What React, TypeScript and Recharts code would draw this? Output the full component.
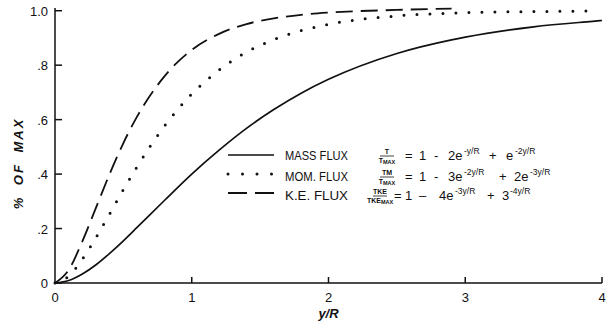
import { LineChart, Line, XAxis, YAxis, Legend, Label } from 'recharts'

// y/R positions at which the curves were read
const xs = [0, 0.1, 0.2, 0.3, 0.4, 0.5, 0.6, 0.8, 1.0, 1.2, 1.4, 1.6, 1.8, 2.0, 2.5, 2.9, 3.0, 3.5, 3.93, 4.0]

// fraction of maximum
const massFlux = [0, 0.009, 0.033, 0.067, 0.109, 0.155, 0.204, 0.303, 0.4, 0.488, 0.568, 0.637, 0.697, 0.748, 0.843, 0.893, 0.903, 0.941, 0.961, 0.964]
const momFlux = [0, 0.025, 0.087, 0.167, 0.254, 0.343, 0.427, 0.576, 0.694, 0.782, 0.848, 0.894, 0.927, 0.95, 0.981, 0.991, 0.993, 0.997, 0.999, null]
const keFlux = [0, 0.048, 0.153, 0.277, 0.401, 0.514, 0.611, 0.759, 0.856, 0.915, 0.951, 0.972, 0.985, 0.993, 1.003, 1.008, null, null, null, null]

const xTicks = [0, 1, 2, 3, 4]
const yTicks = [0, 0.2, 0.4, 0.6, 0.8, 1.0]
const yTickLabels = ['0', '.2', '.4', '.6', '.8', '1.0']

const data = xs.map((x, i) => ({
  x,
  mass: massFlux[i],
  mom: momFlux[i],
  ke: keFlux[i],
}))

const font = '"Liberation Sans", Arial, sans-serif'
const ink = '#111'

function YTick({ x, y, payload }: any) {
  const i = yTicks.indexOf(payload.value)
  return (
    <g>
      <line x1={x} x2={x + 7} y1={y} y2={y} stroke={ink} strokeWidth={1.5} />
      <text x={x - 7} y={y + 5} textAnchor="end" fontSize={13} fontFamily={font} fill={ink}>
        {yTickLabels[i]}
      </text>
    </g>
  )
}

function XTick({ x, y, payload }: any) {
  return (
    <g>
      {payload.value !== 0 && (
        <line x1={x} x2={x} y1={y} y2={y - 6} stroke={ink} strokeWidth={1.5} />
      )}
      <text x={x} y={y + 19} textAnchor="middle" fontSize={13} fontFamily={font} fill={ink}>
        {payload.value}
      </text>
    </g>
  )
}

function Frac({ x, y, top, bottom }: { x: number; y: number; top: string; bottom: string }) {
  return (
    <g fontFamily={font} fill={ink} fontWeight="bold">
      <text x={x} y={y - 6} textAnchor="middle" fontSize={7}>{top}</text>
      <line x1={x - 7} x2={x + 7} y1={y - 4} y2={y - 4} stroke={ink} strokeWidth={0.8} />
      <text x={x} y={y + 3} textAnchor="middle" fontSize={7}>
        {bottom}
        <tspan fontSize={5.5} dy={1}>MAX</tspan>
      </text>
    </g>
  )
}

// pieces: [text, x, isSuperscript]
function Formula({ y, parts }: { y: number; parts: [string, number, boolean][] }) {
  return (
    <g fontFamily={font} fill={ink}>
      {parts.map(([t, x, sup], i) => (
        <text key={i} x={x} y={sup ? y - 6 : y} fontSize={sup ? 8.5 : 13}>
          {t}
        </text>
      ))}
    </g>
  )
}

// legend box is placed at (225, 140); coordinates below are relative to it
const ox = 225
const oy = 140

function FluxLegend() {
  const label = (t: string, y: number) => (
    <text x={285 - ox} y={y - oy} fontSize={13} fontFamily={font} fill={ink} textLength={63} lengthAdjust="spacingAndGlyphs">
      {t}
    </text>
  )
  return (
    <svg width={360} height={70} style={{ display: 'block' }}>
      <line x1={3} x2={49} y1={15} y2={15} stroke={ink} strokeWidth={1.6} />
      <line x1={3} x2={48} y1={34} y2={34} stroke={ink} strokeWidth={3} strokeLinecap="round" strokeDasharray="0 14.5" />
      <line x1={3} x2={49} y1={53} y2={53} stroke={ink} strokeWidth={1.8} strokeDasharray="19 8" />

      {label('MASS FLUX', 160)}
      <Frac x={387 - ox} y={160 - oy} top="T" bottom="T" />
      <Formula
        y={160 - oy}
        parts={[
          ['=', 405 - ox, false],
          ['1', 419 - ox, false],
          ['-', 434 - ox, false],
          ['2e', 448 - ox, false],
          ['-y/R', 464 - ox, true],
          ['+', 489 - ox, false],
          ['e', 506 - ox, false],
          ['-2y/R', 515 - ox, true],
        ]}
      />

      {label('MOM. FLUX', 181)}
      <Frac x={387 - ox} y={181 - oy} top="TM" bottom="T" />
      <Formula
        y={181 - oy}
        parts={[
          ['=', 405 - ox, false],
          ['1', 419 - ox, false],
          ['-', 434 - ox, false],
          ['3e', 448 - ox, false],
          ['-2y/R', 464 - ox, true],
          ['+', 499 - ox, false],
          ['2e', 514 - ox, false],
          ['-3y/R', 530 - ox, true],
        ]}
      />

      {label('K.E. FLUX', 200)}
      <Frac x={380 - ox} y={200 - oy} top="TKE" bottom="TKE" />
      <Formula
        y={200 - oy}
        parts={[
          ['=', 394 - ox, false],
          ['1', 405 - ox, false],
          ['\u2013', 419 - ox, false],
          ['4e', 439 - ox, false],
          ['-3y/R', 455 - ox, true],
          ['+', 487 - ox, false],
          ['3', 502 - ox, false],
          ['-4y/R', 510 - ox, true],
        ]}
      />
    </svg>
  )
}

export default function App() {
  return (
    <div style={{ position: 'absolute', left: 0, top: 0, width: 612, height: 333, background: '#fff' }}>
      <LineChart width={612} height={333} data={data} margin={{ top: 8, right: 10, bottom: 0, left: 0 }}>
        <XAxis
          dataKey="x"
          type="number"
          domain={[0, 4]}
          ticks={xTicks}
          height={50}
          tickSize={0}
          tickMargin={0}
          tickLine={false}
          tick={<XTick />}
          axisLine={{ stroke: ink, strokeWidth: 1.5 }}
        >
          <Label
            value="y/R"
            position="insideBottom"
            offset={15}
            style={{ fontFamily: font, fontSize: 13, fontWeight: 'bold', fontStyle: 'italic', fill: ink }}
          />
        </XAxis>
        <YAxis
          type="number"
          domain={[0, 1.01]}
          ticks={yTicks}
          width={55}
          tickSize={0}
          tickMargin={0}
          tickLine={false}
          tick={<YTick />}
          axisLine={{ stroke: ink, strokeWidth: 1.5 }}
        >
          <Label
            value="% OF MAX"
            angle={-90}
            position="center"
            dx={-9}
            dy={18}
            style={{
              fontFamily: font,
              fontSize: 13,
              fontWeight: 'bold',
              fontStyle: 'italic',
              letterSpacing: 2,
              wordSpacing: 5,
              fill: ink,
            }}
          />
        </YAxis>
        <Legend
          layout="horizontal"
          verticalAlign="middle"
          align="center"
          content={<FluxLegend />}
          wrapperStyle={{ left: ox, top: oy, width: 360, height: 70 }}
        />
        <Line
          dataKey="mass"
          type="monotone"
          stroke={ink}
          strokeWidth={1.7}
          dot={false}
          isAnimationActive={false}
        />
        <Line
          dataKey="mom"
          type="monotone"
          stroke={ink}
          strokeWidth={3}
          strokeLinecap="round"
          strokeDasharray="0 13"
          dot={false}
          isAnimationActive={false}
        />
        <Line
          dataKey="ke"
          type="monotone"
          stroke={ink}
          strokeWidth={1.8}
          strokeDasharray="17 8"
          dot={false}
          isAnimationActive={false}
        />
      </LineChart>
    </div>
  )
}
